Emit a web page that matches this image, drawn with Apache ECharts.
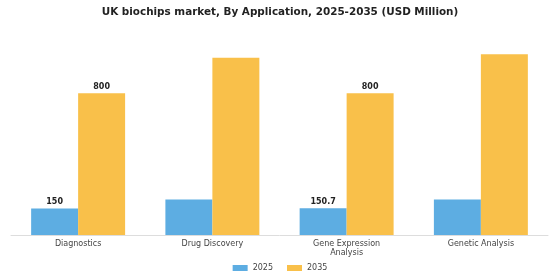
<!DOCTYPE html>
<html><head><meta charset="utf-8">
<script src="https://cdn.jsdelivr.net/npm/echarts@6/dist/echarts.min.js"></script>
<style>html,body{margin:0;padding:0;background:#fff}#c{width:560px;height:280px}</style>
</head><body><div id="c"></div>
<script>
const categories = ['Diagnostics', 'Drug Discovery', 'Gene Expression\nAnalysis', 'Genetic Analysis'];
const years = ['2025', '2035'];
const values2025 = [150, 200, 150.7, 200];
const values2035 = [800, 1000, 800, 1020];
const labelShown = [true, false, true, false];

const chart = echarts.init(document.getElementById('c'), null, {renderer: 'canvas'});
const font = 'DejaVu Sans';
function mkLabel(){
  return {
    show: true, position: 'top', distance: 2,
    fontFamily: font, fontSize: 8, fontWeight: 'bold', color: '#222',
    formatter: p => labelShown[p.dataIndex] ? String(p.value) : ''
  };
}
chart.setOption({
  animation: false,
  title: {
    text: 'UK biochips market, By Application, 2025-2035 (USD Million)',
    left: 'center', top: 2,
    textStyle: {fontFamily: font, fontSize: 10.4, fontWeight: 'bold', color: '#222'}
  },
  legend: {
    data: years, bottom: 3, left: 'center', itemWidth: 15, itemHeight: 6, itemGap: 14,
    textStyle: {fontFamily: font, fontSize: 8, color: '#444'}, icon: 'rect'
  },
  grid: {left: 11, right: 12, top: 40, bottom: 45, containLabel: false},
  xAxis: {
    type: 'category', data: categories,
    axisLine: {show: true, lineStyle: {color: '#ddd', width: 1}},
    axisTick: {show: false},
    axisLabel: {fontFamily: font, fontSize: 8, color: '#444', margin: 4, lineHeight: 9}
  },
  yAxis: {type: 'value', min: 0, max: 1100, show: false, splitLine: {show: false}},
  series: [
    {name: years[0], type: 'bar', data: values2025, barGap: '0%', barCategoryGap: '30%',
     itemStyle: {color: '#5dade2'}, label: mkLabel()},
    {name: years[1], type: 'bar', data: values2035, barGap: '0%', barCategoryGap: '30%',
     itemStyle: {color: '#f9c04a'}, label: mkLabel()}
  ]
});
</script></body></html>
